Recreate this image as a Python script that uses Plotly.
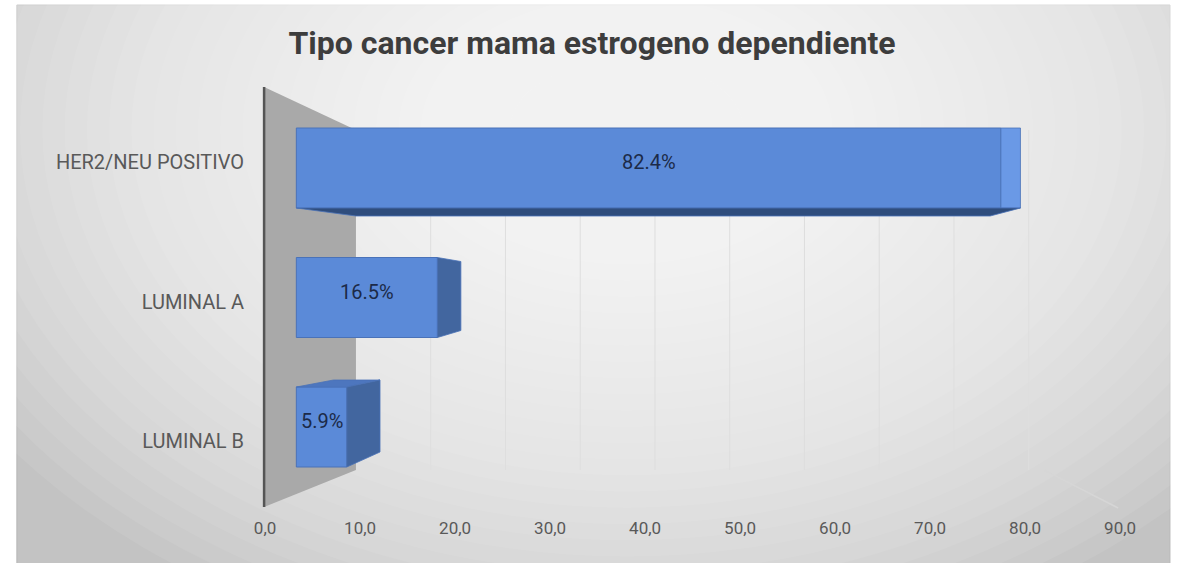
import plotly.graph_objects as go

# ---------------- data ----------------
categories = ["HER2/NEU POSITIVO", "LUMINAL A", "LUMINAL B"]
values = [82.4, 16.5, 5.9]
x_ticks = [0, 10, 20, 30, 40, 50, 60, 70, 80, 90]
x_tick_labels = ["0,0", "10,0", "20,0", "30,0", "40,0", "50,0", "60,0", "70,0", "80,0", "90,0"]
title_text = "Tipo cancer mama estrogeno dependiente"

# ---------------- layout constants (pixels) ----------------
W, H = 1184, 563
PX_L, PX_R = 260, 1135          # span of the labelled value axis
PY_T, PY_B = 87, 507            # span of the category axis
BAR_X0 = 292                    # pixel where bars start
BAR_PX_PER_UNIT = 8.75
BAR_FIRST_C = 168               # centre of first bar
BAR_STEP = 129.5
BAR_HALF = 40
LAB_FIRST_C = 162
LAB_STEP = 139.5
WALL_X0 = 353
WALL_PX_PER_UNIT = 7.65
FONT = "Roboto"


def fx(px):
    return px / W


def fy(py):
    return 1 - py / H


dom_x = [fx(PX_L), fx(PX_R)]
dom_y = [fy(PY_B), fy(PY_T)]
span_x = PX_R - PX_L
span_y = PY_B - PY_T

# axis ranges
x2_lo = -(BAR_X0 - PX_L) / BAR_PX_PER_UNIT
x2_hi = x2_lo + span_x / BAR_PX_PER_UNIT
x3_lo = -(WALL_X0 - PX_L) / WALL_PX_PER_UNIT
x3_hi = x3_lo + span_x / WALL_PX_PER_UNIT
y_top = -(LAB_FIRST_C - PY_T) / LAB_STEP
y_bot = y_top + span_y / LAB_STEP
y2_top = -(BAR_FIRST_C - PY_T) / BAR_STEP
y2_bot = y2_top + span_y / BAR_STEP
h = BAR_HALF / BAR_STEP

FRONT = "#5b8ad8"
EDGE = "#4a72b8"
LIGHT_SIDE = "#6a99e6"
DARK_SIDE = "#42669f"
DARK_BOTTOM = "#2f4d7d"
TOP_FACE = "#4d76be"

# 3-D faces, offsets in pixels relative to bar end ('v') / bar start ('0') and top ('t') / bottom ('b')
faces = [
    [(LIGHT_SIDE, [("v", 0, "t", 0), ("v", 20, "t", 0), ("v", 20, "b", 0), ("v", 0, "b", 0)]),
     (DARK_BOTTOM, [("0", 0, "b", 0), ("v", 20, "b", 0), ("v", -11, "b", 8), ("0", 61, "b", 8)])],
    [(DARK_SIDE, [("v", 0, "t", 0), ("v", 24, "t", 4), ("v", 24, "b", -7), ("v", 0, "b", 0)])],
    [(TOP_FACE, [("0", 0, "t", 0), ("0", 38, "t", -7), ("v", 34, "t", -7), ("v", 0, "t", 0)]),
     (DARK_SIDE, [("v", 0, "t", 0), ("v", 34, "t", -7), ("v", 34, "b", -15), ("v", 0, "b", 0)])],
]

fig = go.Figure()

# invisible trace to establish the labelled axes
fig.add_trace(go.Scatter(x=[x_ticks[0], x_ticks[-1]], y=[0, len(categories) - 1],
                         mode="markers", marker=dict(opacity=0), hoverinfo="skip",
                         showlegend=False, xaxis="x", yaxis="y"))

# front faces of bars
ypos = list(range(len(categories)))
fig.add_trace(go.Bar(x=values, y=ypos, orientation="h", width=2 * h,
                     marker=dict(color=FRONT, line=dict(color=EDGE, width=1)),
                     customdata=categories, hovertemplate="%{customdata}: %{x}<extra></extra>",
                     showlegend=False, xaxis="x2", yaxis="y2"))

# side faces computed from each value
for i, v in enumerate(values):
    for color, pts in faces[i]:
        xs, ys = [], []
        for xa, dx, ya, dy in pts:
            xb = v if xa == "v" else 0
            yb = i - h if ya == "t" else i + h
            xs.append(xb + dx / BAR_PX_PER_UNIT)
            ys.append(yb + dy / BAR_STEP)
        xs.append(xs[0]); ys.append(ys[0])
        fig.add_trace(go.Scatter(x=xs, y=ys, mode="lines", fill="toself", fillcolor=color,
                                 line=dict(color=EDGE, width=0.8), hoverinfo="skip",
                                 showlegend=False, xaxis="x2", yaxis="y2"))

shapes = []
# background frame with radial-ish gradient
shapes.append(dict(type="rect", xref="paper", yref="paper", x0=fx(6), x1=fx(W + 2), y0=fy(H + 2), y1=fy(5),
                   fillcolor="#c3c3c3", line=dict(color="#b8b8b8", width=1), layer="below"))
N = 30
cx, cy = 630, 130
for k in range(N):
    t = k / (N - 1)
    rx = 780 - t * 660
    ry = 540 - t * 470
    shapes.append(dict(type="circle", xref="paper", yref="paper",
                       x0=fx(cx - rx), x1=fx(cx + rx), y0=fy(cy + ry), y1=fy(cy - ry),
                       fillcolor="white", opacity=0.07, line=dict(width=0), layer="below"))
# left wall
shapes.append(dict(type="path", xref="paper", yref="paper",
                   path=f"M {fx(259)} {fy(87)} L {fx(WALL_X0)} {fy(130)} L {fx(WALL_X0)} {fy(470)} L {fx(259)} {fy(507)} Z",
                   fillcolor="#a9a9a9", line=dict(width=0), layer="below"))
shapes.append(dict(type="line", xref="paper", yref="paper", x0=fx(259), x1=fx(259), y0=fy(87), y1=fy(507),
                   line=dict(color="#555555", width=2.5), layer="below"))
# floor right edge
shapes.append(dict(type="line", xref="paper", yref="paper", x0=fx(1057), x1=fx(1133), y0=fy(470), y1=fy(508),
                   line=dict(color="#d6d6d6", width=1.5), layer="below"))
# back-wall gridlines
for tv in x_ticks[1:]:
    shapes.append(dict(type="line", xref="x3", yref="paper", x0=tv, x1=tv, y0=fy(470), y1=fy(130),
                       line=dict(color="#dedede", width=1), layer="below"))

annotations = []
for i, v in enumerate(values):
    annotations.append(dict(x=v / 2, y=i, xref="x2", yref="y2", text=f"{v:.1f}%", showarrow=False,
                            yshift=6, font=dict(family=FONT, size=20, color="#1c2a48")))

fig.update_layout(
    width=W, height=H, autosize=False,
    margin=dict(l=0, r=0, t=0, b=0, pad=0),
    paper_bgcolor="white",
    plot_bgcolor="rgba(0,0,0,0)",
    showlegend=False,
    title=dict(text=title_text, x=0.5, xanchor="center", y=fy(43), yanchor="middle",
               font=dict(family=FONT, size=32, color="#3d3d3d", weight=700)),
    xaxis=dict(domain=dom_x, range=[x_ticks[0], x_ticks[-1]], tickvals=x_ticks, ticktext=x_tick_labels,
               showgrid=False, zeroline=False, showline=False, ticks="", ticklabelstandoff=9,
               tickfont=dict(family=FONT, size=17, color="#595959"), fixedrange=True),
    yaxis=dict(domain=dom_y, range=[y_bot, y_top], tickvals=ypos, ticktext=categories,
               showgrid=False, zeroline=False, showline=False, ticks="", ticklabelstandoff=20,
               tickfont=dict(family=FONT, size=20, color="#595959"), fixedrange=True),
    xaxis2=dict(domain=dom_x, range=[x2_lo, x2_hi], overlaying="x", visible=False, anchor="y2"),
    yaxis2=dict(domain=dom_y, range=[y2_bot, y2_top], overlaying="y", visible=False, anchor="x2"),
    xaxis3=dict(domain=dom_x, range=[x3_lo, x3_hi], overlaying="x", visible=False),
    shapes=shapes,
    annotations=annotations,
)

fig.write_html("out.html", config={"responsive": False},
               post_script="document.body.style.margin='0px';document.documentElement.style.overflow='hidden';")
